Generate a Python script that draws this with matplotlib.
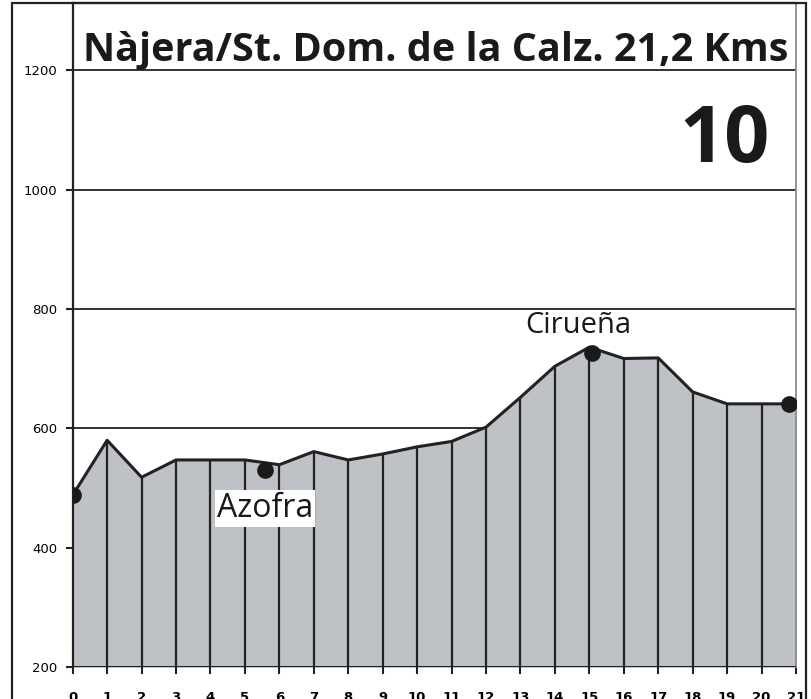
import matplotlib.pyplot as plt
from matplotlib.patches import Rectangle

# elevation profile, one reading per km
km = list(range(22))
elev = [488, 580, 518, 547, 547, 547, 539, 561, 547, 557, 569,
        578, 602, 652, 704, 736, 717, 718, 661, 641, 641, 641]

# towns along the stage
town_names = ["Azofra", "Cirueña"]
town_km = [5.58, 15.08]
town_elev = [530, 726]
# start / end points
end_km = [0, 20.8]
end_elev = [488, 641]

title = "Nàjera/St. Dom. de la Calz. 21,2 Kms"
stage = "10"
yticks = [200, 400, 600, 800, 1000, 1200]

fig = plt.figure(figsize=(8.11, 6.99), dpi=100)
ax = fig.add_axes([72.7 / 811, 32 / 699, (796 - 72.7) / 811, (667 - 3) / 699])

# outer frame of the card
fig.patches.append(Rectangle((12 / 811, -0.1), (806 - 12) / 811, 0.1 + (699 - 3) / 699,
                             transform=fig.transFigure, fill=False,
                             edgecolor="#222222", linewidth=1.6))

ax.set_xlim(0, 21)
ax.set_ylim(200, 200 + (667 - 3) / 0.5967)

# horizontal guide lines
for y in yticks[1:]:
    ax.axhline(y, color="#222222", linewidth=1.3, zorder=0.5)

ax.fill_between(km, 200, elev, color="#bec2c6", zorder=1)
ax.vlines(km[1:-1], 200, elev[1:-1], color="#222222", linewidth=1.6, zorder=2)
ax.plot(km, elev, color="#222222", linewidth=2.2, zorder=3)
ax.axhline(200, color="#222222", linewidth=2.2, zorder=3)

ax.plot(end_km + town_km, end_elev + town_elev, "o", color="#1a1a1a",
        markersize=11, zorder=4)

ax.text(5.58, 451, town_names[0], ha="center", va="baseline", fontsize=23,
        family="Open Sans", color="#1a1a1a", zorder=5,
        bbox=dict(facecolor="white", edgecolor="none", pad=1.5))
ax.text(14.67, 760, town_names[1], ha="center", va="baseline", fontsize=21,
        family="Open Sans", color="#1a1a1a", zorder=5)

# title: shrink the font until it spans the same width as the original (~705 px)
t = ax.text(10.55, 1215, title, ha="center", va="baseline", fontsize=30,
            fontweight="bold", family="Open Sans", color="#1a1a1a", zorder=5)
r = fig.canvas.get_renderer()
w = t.get_window_extent(renderer=r).width
t.set_fontsize(30 * 705 / w)

ax.text(20.25, 1046, stage, ha="right", va="baseline", fontsize=57,
        fontweight="bold", family="Open Sans", color="#1a1a1a", zorder=5)

ax.set_xticks(km)
ax.set_xticklabels([str(k) for k in km], fontsize=9.5, fontweight="bold")
ax.set_yticks(yticks)
ax.set_yticklabels([str(y) for y in yticks], fontsize=9.5)
ax.tick_params(axis="x", length=5, width=1.5, pad=12, color="#222222")
ax.tick_params(axis="y", length=5, width=1.5, pad=6, color="#222222")

for side in ["left", "top"]:
    ax.spines[side].set_linewidth(1.6)
    ax.spines[side].set_color("#222222")
ax.spines["right"].set_color("#8a8f94")
ax.spines["right"].set_linewidth(1.3)
ax.spines["bottom"].set_visible(False)

fig.savefig("out.png", dpi=100)
